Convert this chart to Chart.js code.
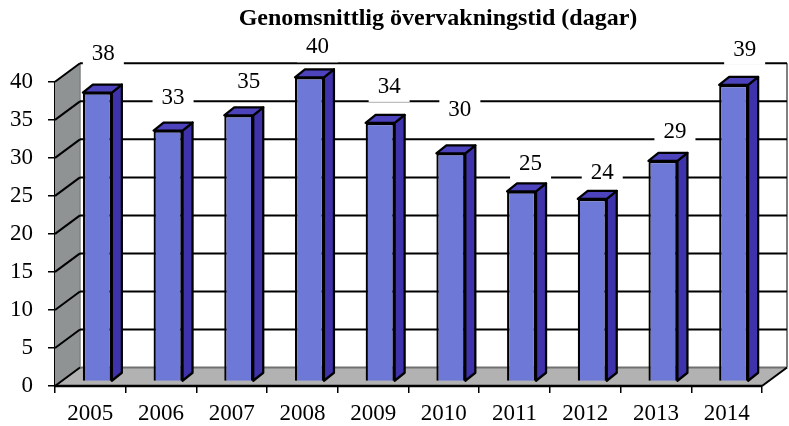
<!DOCTYPE html>
<html>
<head>
<meta charset="utf-8">
<title>Genomsnittlig övervakningstid</title>
<script src="https://cdn.jsdelivr.net/npm/chart.js@4"></script>
<style>
  html, body { margin: 0; padding: 0; background: #fff; }
  canvas { display: block; }
</style>
</head>
<body>
<canvas id="chart1" width="789" height="426"></canvas>
<script>
var years = ["2005", "2006", "2007", "2008", "2009", "2010", "2011", "2012", "2013", "2014"];
var days = [38, 33, 35, 40, 34, 30, 25, 24, 29, 39];
var titleText = "Genomsnittlig övervakningstid (dagar)";

// hand placed data labels, relative to the bar top
var labelShiftX = [6, 5, 10, 8, 9, 9, 9, 10, 12, 11];
var labelLift = [40, 34, 34, 31, 37, 44, 28, 27, 30, 36];

var font = "Liberation Serif";
var wallDx = 25, wallDy = -18.5; // depth of the floor and side wall
var barShiftX = 7, barShiftY = -4.5; // bars stand in the middle of the floor
var barDx = 10, barDy = -8; // depth of one bar

function poly(ctx, pts, fill, stroke, width) {
  ctx.beginPath();
  ctx.moveTo(pts[0][0], pts[0][1]);
  for (var i = 1; i < pts.length; i++) ctx.lineTo(pts[i][0], pts[i][1]);
  ctx.closePath();
  if (fill) {
    ctx.fillStyle = fill;
    ctx.fill();
  }
  if (stroke) {
    ctx.strokeStyle = stroke;
    ctx.lineWidth = width;
    ctx.lineJoin = "round";
    ctx.stroke();
  }
}

function line(ctx, x1, y1, x2, y2, color, width) {
  ctx.beginPath();
  ctx.moveTo(x1, y1);
  ctx.lineTo(x2, y2);
  ctx.strokeStyle = color;
  ctx.lineWidth = width;
  ctx.stroke();
}

var moveTitle = {
  id: "moveTitle",
  afterLayout: function (chart) {
    chart.titleBlock.left += 57;
    chart.titleBlock.right += 57;
  },
};

var walls = {
  id: "walls",
  beforeDatasetsDraw: function (chart) {
    var ctx = chart.ctx;
    var a = chart.chartArea;
    var y = chart.scales.y;
    ctx.save();
    // floor and side wall
    poly(ctx, [[a.left, a.bottom], [a.right, a.bottom], [a.right + wallDx, a.bottom + wallDy], [a.left + wallDx, a.bottom + wallDy]], "#b2b2b2");
    poly(ctx, [[a.left, a.top], [a.left + wallDx, a.top + wallDy], [a.left + wallDx, a.bottom + wallDy], [a.left, a.bottom]], "#8f9394");
    line(ctx, a.left + wallDx, a.top + wallDy, a.left + wallDx, a.bottom + wallDy, "#808080", 1.5);
    line(ctx, a.right + wallDx, a.top + wallDy, a.right + wallDx, a.bottom + wallDy, "#808080", 2);
    line(ctx, a.left + wallDx, a.bottom + wallDy, a.right + wallDx, a.bottom + wallDy, "#707070", 2);
    // grid lines, along the back and down the side wall
    y.ticks.forEach(function (t) {
      var py = y.getPixelForValue(t.value);
      line(ctx, a.left, py, a.left + wallDx, py + wallDy, "#000", 2);
      if (t.value > 0) line(ctx, a.left + wallDx, py + wallDy, a.right + wallDx, py + wallDy, "#000", 2);
    });
    line(ctx, a.right, a.bottom, a.right + wallDx, a.bottom + wallDy, "#000", 2);
    // data labels sit on white boxes that cut the grid lines
    var bars = chart.getDatasetMeta(0).data;
    ctx.font = "23px '" + font + "'";
    ctx.textAlign = "center";
    ctx.textBaseline = "middle";
    bars.forEach(function (bar, i) {
      var lx = bar.x + barShiftX + labelShiftX[i];
      var ly = bar.y + barShiftY - labelLift[i];
      ctx.fillStyle = "#fff";
      ctx.fillRect(lx - 20.5, ly - 16, 41, 32);
      ctx.fillStyle = "#000";
      ctx.fillText(days[i], lx, ly + 1);
    });
    ctx.restore();
  },
  beforeDatasetDraw: function (chart) {
    var ctx = chart.ctx;
    ctx.save();
    ctx.translate(barShiftX, barShiftY);
    chart.getDatasetMeta(0).data.forEach(function (bar) {
      var l = bar.x - bar.width / 2;
      var r = bar.x + bar.width / 2;
      poly(ctx, [[r, bar.y], [r + barDx, bar.y + barDy], [r + barDx, bar.base + barDy], [r, bar.base]], "#3f33ab", "#000", 2.25);
      poly(ctx, [[l, bar.y], [l + barDx, bar.y + barDy], [r + barDx, bar.y + barDy], [r, bar.y]], "#4c43bd", "#000", 2.25);
    });
  },
  afterDatasetDraw: function (chart) {
    chart.ctx.restore();
  },
  afterDraw: function (chart) {
    var a = chart.chartArea;
    chart.ctx.save();
    line(chart.ctx, a.left, a.bottom, a.right, a.bottom, "#000", 2.5);
    chart.ctx.restore();
  },
};

var ctx = document.getElementById("chart1");
var myChart = new Chart(ctx, {
  type: "bar",
  data: {
    labels: years,
    datasets: [
      {
        data: days,
        backgroundColor: "#6e78d6",
        borderColor: "#000",
        borderWidth: 2.25,
        barPercentage: 0.41,
        categoryPercentage: 1,
        clip: false,
      },
    ],
  },
  options: {
    responsive: false,
    animation: false,
    layout: { padding: { top: 0, right: 27, left: 0, bottom: 0 } },
    plugins: {
      legend: { display: false },
      tooltip: { enabled: false },
      title: {
        display: true,
        text: titleText,
        color: "#000",
        font: { family: font, size: 24, weight: "bold" },
        padding: { top: 4, bottom: 49 },
      },
    },
    scales: {
      x: {
        afterFit: function (scale) {
          scale.height = 40;
        },
        border: { color: "#000", width: 2 },
        grid: { drawOnChartArea: false, color: "#000", tickLength: 7, lineWidth: 1.5 },
        ticks: { color: "#000", font: { family: font, size: 23 }, padding: 7, maxRotation: 0 },
      },
      y: {
        min: 0,
        max: 40,
        afterFit: function (scale) {
          scale.width = 55;
        },
        border: { color: "#000", width: 1.5 },
        grid: { drawOnChartArea: false, color: "#000", tickLength: 7, lineWidth: 1.5 },
        ticks: { stepSize: 5, color: "#000", font: { family: font, size: 23 }, padding: 15 },
      },
    },
  },
  plugins: [moveTitle, walls],
});
</script>
</body>
</html>
